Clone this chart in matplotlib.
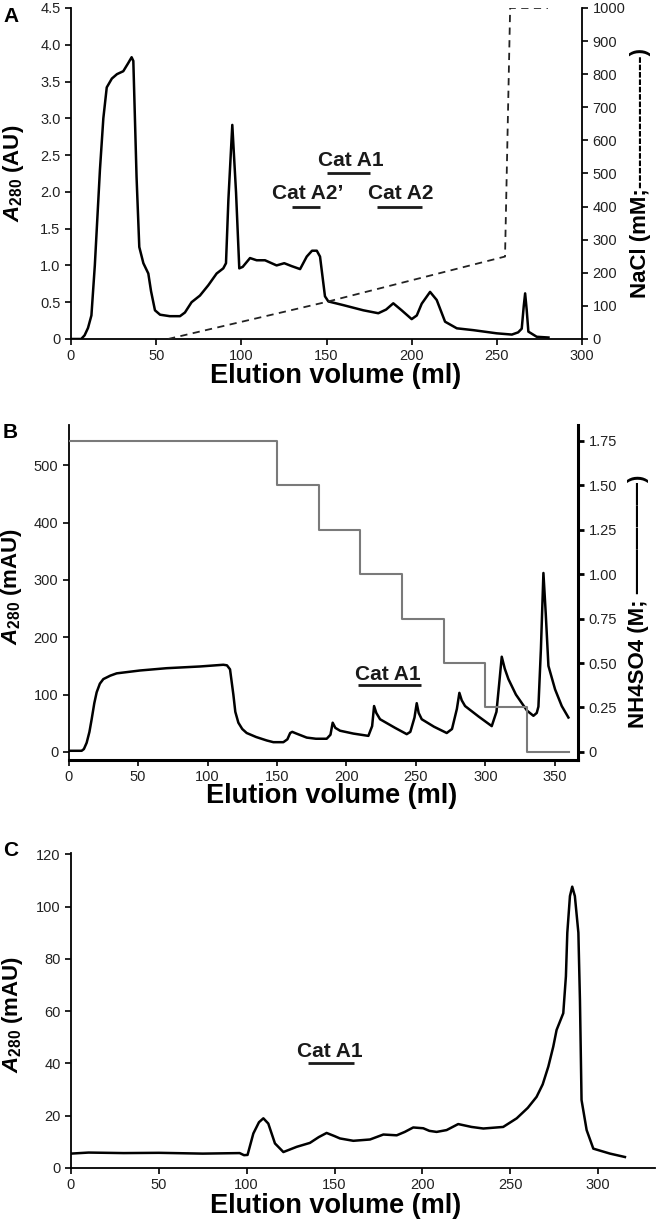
import matplotlib
matplotlib.use('Agg')
import matplotlib.pyplot as plt

# fonts: Arial-like, bold labels, bold-italic "A" in A280
plt.rcParams['font.family'] = ['Liberation Sans', 'DejaVu Sans']
plt.rcParams['mathtext.fontset'] = 'custom'
plt.rcParams['mathtext.rm'] = 'Liberation Sans'
plt.rcParams['mathtext.it'] = 'Liberation Sans:italic'
plt.rcParams['mathtext.bf'] = 'Liberation Sans:bold'
plt.rcParams['mathtext.bfit'] = 'Liberation Sans:italic:bold'

# ---- panel A: anion exchange, A280 (AU) and NaCl gradient (mM)
vol_a = [0, 6, 8, 10, 12, 14, 17, 19, 21, 24, 27, 30.7, 33.6, 35.6, 36.6, 38.5,
         40.1, 42.5, 45.4, 47, 49.3, 52.3, 58, 64, 66.9, 70.8, 75.7, 80.6, 85.5,
         89.4, 91, 92.4, 94.7, 96.9, 98.8, 100.8, 105.1, 109, 113.9, 120.7,
         125.2, 129.6, 134.5, 138.4, 141.5, 144.3, 146.2, 149.1, 151.1, 159.9,
         171.6, 180.4, 185, 189.2, 194.1, 200, 203, 205.9, 210.8, 214.7, 219.6,
         226.5, 236.2, 249.9, 258.8, 262.5, 264.6, 265.8, 266.6, 267.5, 268.5,
         273.4, 280.3]
abs_a = [0, 0, 0.05, 0.15, 0.32, 1.0, 2.3, 3.0, 3.42, 3.54, 3.6, 3.64, 3.75,
         3.83, 3.78, 2.2, 1.25, 1.03, 0.89, 0.65, 0.39, 0.33, 0.31, 0.31, 0.36,
         0.50, 0.59, 0.73, 0.89, 0.96, 1.03, 1.89, 2.91, 1.99, 0.96, 0.98, 1.10,
         1.07, 1.07, 1.00, 1.03, 0.99, 0.95, 1.12, 1.20, 1.20, 1.12, 0.58, 0.51,
         0.46, 0.39, 0.35, 0.40, 0.485, 0.39, 0.27, 0.32, 0.48, 0.64, 0.53,
         0.235, 0.145, 0.12, 0.077, 0.06, 0.09, 0.14, 0.45, 0.62, 0.40, 0.10,
         0.03, 0.02]
nacl_vol = [57, 150, 254.8, 257.8, 280]
nacl_mm = [0, 112, 249, 1000, 1000]

# ---- panel B: HIC, A280 (mAU) and ammonium sulfate steps (M)
vol_b = [0, 9.4, 11, 13, 15, 16.6, 18.5, 20.2, 22.5, 25, 30, 34.6, 51.4, 70.6,
         94.6, 111.4, 114, 116.2, 118.6, 120, 122.2, 125, 128.2, 135, 142.6,
         147.4, 154.6, 157.5, 159.5, 161, 164, 171.4, 178, 185.8, 188.5, 190.1,
         192, 195.4, 205, 215.8, 218.5, 219.9, 221.5, 224.2, 235, 243.4, 246,
         249, 250.6, 252, 254.2, 263, 272.2, 276, 279.5, 281.3, 283, 285.4, 295,
         304.6, 308, 310, 311.8, 314, 316.6, 322, 330, 334.6, 337, 338.2, 340,
         341.8, 343.5, 345.4, 350.2, 355, 359.8]
abs_b = [2, 2, 5, 16, 35, 57, 85, 104, 119, 127, 133, 137, 142, 146, 149, 152,
         151, 144, 100, 70, 51, 40, 33, 26, 20, 17, 17, 22, 33, 35, 32, 25, 23,
         23, 30, 51, 42, 37, 32, 28, 45, 80, 68, 57, 42, 31, 35, 60, 85, 68, 57,
         44, 33, 40, 75, 103, 90, 80, 62, 45, 70, 120, 166, 145, 127, 100, 72,
         63, 68, 79, 180, 312, 240, 150, 109, 80, 60]
salt_vol = [0, 150, 180, 210, 240, 270, 300, 330, 360]
salt_m = [1.75, 1.50, 1.25, 1.00, 0.75, 0.50, 0.25, 0, 0]

# ---- panel C: gel filtration, A280 (mAU)
vol_c = [0, 10, 30, 50, 75, 96, 98.5, 100.5, 103.8, 107, 109.5, 112.3, 116.1,
         120.9, 128.5, 136, 141, 145.5, 150, 153.1, 160.7, 170.2, 177.8, 185.4,
         190, 194.8, 200.5, 204, 208.1, 213.8, 220.4, 228, 234.7, 246, 253.7,
         260, 265, 268.5, 271.7, 274.5, 276.4, 280.2, 281.7, 282.5, 284, 285.3,
         286.8, 288.8, 289.7, 290.6, 293.5, 297.3, 306.8, 315.3]
abs_c = [5.5, 5.9, 5.7, 5.8, 5.5, 5.7, 4.9, 5.0, 13.2, 17.5, 19, 17, 9.4, 6.1,
         8.1, 9.6, 11.8, 13.4, 12.2, 11.3, 10.4, 10.9, 12.8, 12.5, 13.8, 15.5,
         15.2, 14.2, 13.8, 14.5, 16.8, 15.7, 15.1, 15.7, 19, 23, 27.2, 32, 38.8,
         46.4, 52.8, 59.2, 73.3, 90, 104, 107.6, 104, 90, 64, 26, 14.5, 7.4,
         5.5, 4.2]

# fraction annotations: (label, text x, text y, bar start, bar end, bar y)
frac_a = [('Cat A1', 164, 2.42, 150.1, 175.5, 2.26),
          ('Cat A2\u2019', 139, 1.98, 129.6, 146.2, 1.80),
          ('Cat A2', 193.7, 1.98, 179.5, 205.9, 1.80)]
frac_b = [('Cat A1', 230, 135, 208, 254, 117)]
frac_c = [('Cat A1', 147.4, 44.5, 135, 161, 40)]

TICK = 10.5
XLAB = 19.5
YLAB = 16
RLAB = 16
ANN = 15

fig = plt.figure(figsize=(6.59, 12.22), dpi=100)


def style(ax, lw=1.3):
    ax.spines['top'].set_visible(False)
    ax.spines['right'].set_visible(False)
    for s in ('left', 'bottom'):
        ax.spines[s].set_linewidth(lw)
    ax.tick_params(direction='out', length=4, width=1.2, labelsize=TICK,
                   colors='black', labelcolor='#222222')


def annotate(ax, rows):
    for txt, tx, ty, x0, x1, by in rows:
        ax.text(tx, ty, txt, ha='center', va='center', fontsize=ANN,
                fontweight='bold', color='#1a1a1a')
        ax.plot([x0, x1], [by, by], color='#1a1a1a', lw=2.0,
                solid_capstyle='butt')


xlabel = 'Elution volume (ml)'

# panel A
ax_a = fig.add_axes([0.1077, 0.7226, 0.7755, 0.2709])
style(ax_a)
ax_a.plot(vol_a, abs_a, color='black', lw=1.8, solid_joinstyle='round')
ax_a.set_xlim(0, 300)
ax_a.set_ylim(0, 4.5)
ax_a.set_xticks(range(0, 301, 50))
ax_a.set_yticks([i * 0.5 for i in range(10)])
ax_a.set_yticklabels(['0'] + [f'{i * 0.5:.1f}' for i in range(1, 10)])
annotate(ax_a, frac_a)
ax_a.set_xlabel(xlabel, fontsize=XLAB, fontweight='bold')
ax_a.xaxis.set_label_coords(0.517, -0.072)
ax_a.set_ylabel(r'$\mathbfit{A}_{\mathbf{280}}$ (AU)', fontsize=YLAB,
                fontweight='bold')
ax_a.yaxis.set_label_coords(-0.088, 0.5)

ax_a2 = ax_a.twinx()
ax_a2.plot(nacl_vol, nacl_mm, color='#222222', lw=1.3, ls=(0, (4, 3)))
ax_a2.set_ylim(0, 1000)
ax_a2.set_yticks(range(0, 1001, 100))
for s in ('top', 'left', 'bottom'):
    ax_a2.spines[s].set_visible(False)
ax_a2.spines['right'].set_linewidth(1.3)
ax_a2.tick_params(direction='out', length=4, width=1.2, labelsize=TICK,
                  labelcolor='#222222')
ax_a2.set_ylabel('NaCl (mM;' + '-' * 18 + ')', fontsize=RLAB,
                 fontweight='bold')
ax_a2.yaxis.set_label_coords(1.093, 0.5)

# panel B
ax_b = fig.add_axes([0.1041, 0.3781, 0.773, 0.2741])
style(ax_b)
ax_b.spines['bottom'].set_linewidth(2.2)
ax_b.plot(vol_b, abs_b, color='black', lw=1.8, solid_joinstyle='round')
ax_b.set_xlim(0, 366.7)
ax_b.set_ylim(-14, 570)
ax_b.set_xticks(range(0, 351, 50))
ax_b.set_yticks(range(0, 501, 100))
annotate(ax_b, frac_b)
ax_b.set_xlabel(xlabel, fontsize=XLAB, fontweight='bold')
ax_b.xaxis.set_label_coords(0.517, -0.069)
ax_b.set_ylabel(r'$\mathbfit{A}_{\mathbf{280}}$ (mAU)', fontsize=YLAB,
                fontweight='bold')
ax_b.yaxis.set_label_coords(-0.088, 0.518)

ax_b2 = ax_b.twinx()
ax_b2.step(salt_vol, salt_m, where='post', color='#7a7a7a', lw=1.5)
ax_b2.set_ylim(-14 / 310, 570 / 310)
ax_b2.set_yticks([i * 0.25 for i in range(8)])
ax_b2.set_yticklabels(['0'] + [f'{i * 0.25:.2f}' for i in range(1, 8)])
for s in ('top', 'left', 'bottom'):
    ax_b2.spines[s].set_visible(False)
ax_b2.spines['right'].set_linewidth(2.2)
ax_b2.tick_params(direction='out', length=4, width=2.0, labelsize=TICK,
                  labelcolor='#222222')
ax_b2.set_ylabel('NH4SO4 (M; ' + '\u2014' * 5 + ')', fontsize=RLAB,
                 fontweight='bold')
ax_b2.yaxis.set_label_coords(1.098, 0.475)

# panel C
ax_c = fig.add_axes([0.1077, 0.0442, 0.8862, 0.2578])
style(ax_c)
ax_c.plot(vol_c, abs_c, color='black', lw=1.8, solid_joinstyle='round')
ax_c.set_xlim(0, 332.4)
ax_c.set_ylim(0, 120.5)
ax_c.set_xticks(range(0, 301, 50))
ax_c.set_yticks(range(0, 121, 20))
annotate(ax_c, frac_c)
ax_c.set_xlabel(xlabel, fontsize=XLAB, fontweight='bold')
ax_c.xaxis.set_label_coords(0.453, -0.08)
ax_c.set_ylabel(r'$\mathbfit{A}_{\mathbf{280}}$ (mAU)', fontsize=YLAB,
                fontweight='bold')
ax_c.yaxis.set_label_coords(-0.079, 0.486)

# panel letters
for letter, ypx in (('A', 16), ('B', 432), ('C', 850)):
    fig.text(3 / 659, 1 - ypx / 1222, letter, fontsize=15, fontweight='bold',
             va='center', ha='left')

fig.savefig('out.png', dpi=100)
